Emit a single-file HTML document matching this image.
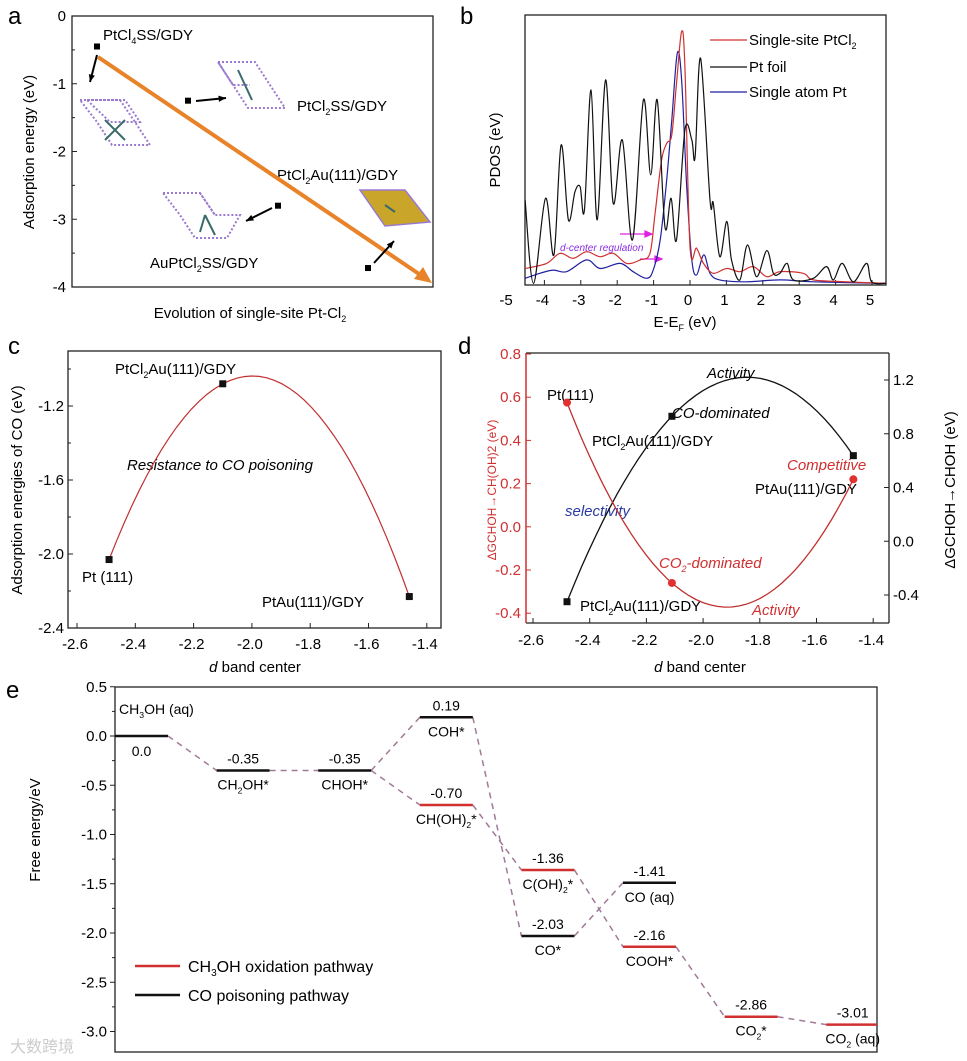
<!DOCTYPE html>
<html><head><meta charset="utf-8"><style>
html,body{margin:0;padding:0;background:#fff}
svg{display:block;font-family:"Liberation Sans",sans-serif}
</style></head><body>
<svg id="fig" width="967" height="1061" viewBox="0 0 967 1061" xmlns="http://www.w3.org/2000/svg">
<rect x="0" y="0" width="967" height="1061" fill="#fff"/>
<!-- Panel labels -->
<g font-size="24" fill="#000">
<text x="8" y="24">a</text>
<text x="460" y="24">b</text>
<text x="8" y="354">c</text>
<text x="458" y="354">d</text>
<text x="6" y="698">e</text>
</g>

<!-- Panel a static -->
<g id="pa">
<rect x="72" y="16" width="361" height="271" fill="none" stroke="#222" stroke-width="1.3"/>
<text transform="translate(34,152) rotate(-90)" text-anchor="middle" font-size="15">Adsorption energy (eV)</text>
<text x="250" y="318" text-anchor="middle" font-size="15">Evolution of single-site Pt-Cl<tspan font-size="9" dy="4">2</tspan></text>
<g font-size="15">
<text x="103" y="40">PtCl<tspan font-size="9" dy="4">4</tspan><tspan dy="-4">SS/GDY</tspan></text>
<text x="297" y="111">PtCl<tspan font-size="9" dy="4">2</tspan><tspan dy="-4">SS/GDY</tspan></text>
<text x="277" y="180">PtCl<tspan font-size="9" dy="4">2</tspan><tspan dy="-4">Au(111)/GDY</tspan></text>
<text x="150" y="268">AuPtCl<tspan font-size="9" dy="4">2</tspan><tspan dy="-4">SS/GDY</tspan></text>
</g>
<g fill="none" stroke="#9a7ad0" stroke-width="2" stroke-dasharray="2 2">
<path d="M80,100 L120,100 L135,122 L150,145 L112,145 L97,122 Z M120,100 L135,122 M112,145 L97,122"/>
<path d="M87,100 L125,100 L140,122 L110,122 Z"/>
<path d="M218,62 L255,62 L270,85 L285,108 L248,108 L233,85 Z M218,62 L233,85 L250,85"/>
<path d="M163,193 L200,193 L215,215 L240,215 L227,238 L195,238 L180,215 Z M200,193 L215,215"/>
</g>
<path d="M360,190 L405,190 L430,222 L385,226 Z" fill="#c9a52a" stroke="#9a7ad0" stroke-width="1.5"/>
<g stroke="#3a6a6a" stroke-width="2">
<path d="M105,120 L125,140 M125,120 L105,140"/>
<path d="M238,70 L252,100"/>
<path d="M205,215 L215,235 M205,215 L200,232"/>
<path d="M385,205 L395,212"/>
</g>
</g>

<!-- Panel b static -->
<g id="pb">
<rect x="525" y="15" width="361" height="270" fill="none" stroke="#222" stroke-width="1.3"/>
<text transform="translate(500,150) rotate(-90)" text-anchor="middle" font-size="15">PDOS (eV)</text>
<text x="685" y="327" text-anchor="middle" font-size="15">E-E<tspan font-size="9" dy="4">F</tspan><tspan dy="-4"> (eV)</tspan></text>
<g font-size="15">
<line x1="710" y1="40" x2="747" y2="40" stroke="#d03030" stroke-width="1.3"/>
<text x="749" y="45">Single-site PtCl<tspan font-size="9" dy="4">2</tspan></text>
<line x1="710" y1="67" x2="747" y2="67" stroke="#111" stroke-width="1.3"/>
<text x="749" y="72">Pt foil</text>
<line x1="710" y1="92" x2="747" y2="92" stroke="#2020a0" stroke-width="1.3"/>
<text x="749" y="97">Single atom Pt</text>
</g>
<text x="560" y="251" font-size="10" font-style="italic" fill="#8a2be2">d-center regulation</text>
<g stroke="#e020e0" stroke-width="1.2" fill="#e020e0">
<line x1="620" y1="234" x2="648" y2="234"/><path d="M652,234 L645,231 L645,237 Z"/>
<line x1="640" y1="259" x2="662" y2="259"/><path d="M662,259 L655,256 L655,262 Z"/>
</g>
</g>

<!-- Panel c static -->
<g id="pc">
<rect x="68" y="351" width="373" height="277" fill="none" stroke="#222" stroke-width="1.3"/>
<text transform="translate(22,490) rotate(-90)" text-anchor="middle" font-size="15">Adsorption energies of CO (eV)</text>
<text x="255" y="672" text-anchor="middle" font-size="15"><tspan font-style="italic">d</tspan> band center</text>
<g font-size="15">
<text x="115" y="374">PtCl<tspan font-size="9" dy="4">2</tspan><tspan dy="-4">Au(111)/GDY</tspan></text>
<text x="82" y="582">Pt (111)</text>
<text x="262" y="607">PtAu(111)/GDY</text>
<text x="127" y="470" font-style="italic">Resistance to CO poisoning</text>
</g>
</g>

<!-- Panel d static -->
<g id="pd">
<line x1="526" y1="353" x2="889" y2="353" stroke="#222" stroke-width="1.3"/>
<line x1="526" y1="623" x2="889" y2="623" stroke="#222" stroke-width="1.3"/>
<line x1="889" y1="353" x2="889" y2="623" stroke="#222" stroke-width="1.3"/>
<line x1="526" y1="353" x2="526" y2="623" stroke="#d03030" stroke-width="1.5"/>
<text transform="translate(496,490) rotate(-90)" text-anchor="middle" font-size="12" fill="#d03030">ΔGCHOH→CH(OH)2 (eV)</text>
<text transform="translate(955,490) rotate(-90)" text-anchor="middle" font-size="15">ΔGCHOH→CHOH (eV)</text>
<text x="700" y="672" text-anchor="middle" font-size="15"><tspan font-style="italic">d</tspan> band center</text>
<g font-size="15">
<text x="707" y="378" font-style="italic">Activity</text>
<text x="547" y="400">Pt(111)</text>
<text x="672" y="418" font-style="italic">CO-dominated</text>
<text x="592" y="446">PtCl<tspan font-size="9" dy="4">2</tspan><tspan dy="-4">Au(111)/GDY</tspan></text>
<text x="787" y="470" font-style="italic" fill="#d03030">Competitive</text>
<text x="755" y="494">PtAu(111)/GDY</text>
<text x="565" y="516" font-style="italic" fill="#2a3aa0">selectivity</text>
<text x="659" y="568" font-style="italic" fill="#d03030">CO<tspan font-size="9" dy="4">2</tspan><tspan dy="-4">-dominated</tspan></text>
<text x="580" y="611">PtCl<tspan font-size="9" dy="4">2</tspan><tspan dy="-4">Au(111)/GDY</tspan></text>
<text x="752" y="615" font-style="italic" fill="#d03030">Activity</text>
</g>
</g>

<!-- Panel e static -->
<g id="pe">
<rect x="115" y="687" width="762" height="365" fill="none" stroke="#222" stroke-width="1.3"/>
<text transform="translate(40,830) rotate(-90)" text-anchor="middle" font-size="15">Free energy/eV</text>
<g>
<line x1="135" y1="966" x2="180" y2="966" stroke="#d03030" stroke-width="2.5"/>
<text x="188" y="972" font-size="16">CH<tspan font-size="10" dy="4">3</tspan><tspan dy="-4">OH oxidation pathway</tspan></text>
<line x1="135" y1="995" x2="180" y2="995" stroke="#111" stroke-width="2.5"/>
<text x="188" y="1001" font-size="16">CO poisoning pathway</text>
</g>
<text x="10" y="1052" font-size="16" fill="#ccc">大数跨境</text>
</g>
</svg>
<script>
// ---------- Data ----------
// Panel a
const aPointsY = [-0.45, -1.25, -2.8, -3.72];
const aPointsX = [97, 188, 278, 368];
const aTicks = [0, -1, -2, -3, -4];
// Panel b
const bTicks = [-5,-4,-3,-2,-1,0,1,2,3,4,5];
const foilE = [-4.53,-4.30,-3.97,-3.74,-3.54,-3.34,-3.16,-3.02,-2.90,-2.72,-2.55,-2.32,-2.11,-1.86,-1.58,-1.28,-1.08,-0.90,-0.69,-0.52,-0.37,-0.14,0.05,0.14,0.29,0.55,0.64,0.82,1.01,1.14,1.37,1.58,1.83,2.11,2.29,2.47,2.67,2.84,3.39,3.75,3.94,4.18,4.49,4.85,4.99,5.38];
const foilV = [3.19,0.06,3.25,1.13,5.25,2.44,3.5,3.69,2.81,7.31,2.44,7.69,3.06,5.44,1.69,6.94,4.13,6.94,2.19,3.25,1.69,5.81,5.44,4.81,8.5,3.19,3.06,1.06,2.38,0.94,0.19,1.5,0.31,1.29,0.44,0.44,0.81,0.19,0.25,0.69,0.19,0.81,0.12,0.81,0.12,0.06];
const ptcl2E = [-4.53,-3.94,-3.57,-3.21,-2.84,-2.47,-2.11,-1.74,-1.37,-1.10,-0.96,-0.78,-0.64,-0.50,-0.37,-0.23,-0.14,0,0.18,0.37,0.64,1.01,1.37,1.74,2.11,2.47,3.11,3.39,4.3,5.38];
const ptcl2V = [0.62,0.81,1.19,1,1.25,1.06,1.19,0.81,0.94,1.19,2.69,4.69,5.31,5.63,7.56,9.5,8.19,1.44,1.38,0.81,0.44,0.62,0.5,0.69,0.31,0.5,0.44,0.19,0.12,0.06];
const atomE = [-4.53,-4.12,-3.76,-3.39,-2.84,-2.47,-1.92,-1.56,-1.19,-1.01,-0.82,-0.64,-0.50,-0.35,-0.23,-0.09,0.05,0.18,0.38,0.55,0.82,1.56,2.47,3.39,5.38];
const atomV = [0.25,0.44,0.56,0.5,0.94,0.62,0.81,0.5,0.25,0.56,1.69,3.94,6.19,8.69,7.69,3.69,0.94,0.38,1.13,0.44,0.19,0.12,0.19,0.12,0.06];
// Panel c
const cTicksX = [-2.6,-2.4,-2.2,-2.0,-1.8,-1.6,-1.4];
const cTickLabelsX = ["-2.6","-2.4","-2.2","-2.0","-1.8","-1.6","-1.4"];
const cTicksY = [-1.2,-1.6,-2.0,-2.4];
const cTickLabelsY = ["-1.2","-1.6","-2.0","-2.4"];
const cD = [-2.49,-2.10,-1.46];
const cE = [-2.03,-1.08,-2.23];
// Panel d
const dTicksX = [-2.6,-2.4,-2.2,-2.0,-1.8,-1.6,-1.4];
const dTickLabelsX = ["-2.6","-2.4","-2.2","-2.0","-1.8","-1.6","-1.4"];
const dTicksL = [0.8,0.6,0.4,0.2,0.0,-0.2,-0.4];
const dTickLabelsL = ["0.8","0.6","0.4","0.2","0.0","-0.2","-0.4"];
const dTicksR = [1.2,0.8,0.4,0.0,-0.4];
const dTickLabelsR = ["1.2","0.8","0.4","0.0","-0.4"];
const dD = [-2.48,-2.11,-1.47];
const dBlack = [-0.45,0.93,0.637];
const dRed = [0.575,-0.26,0.22];
// Panel e
const eTicks = [0.5,0.0,-0.5,-1.0,-1.5,-2.0,-2.5,-3.0];
const eTickLabels = ["0.5","0.0","-0.5","-1.0","-1.5","-2.0","-2.5","-3.0"];
const stepCol = [0,1,2,3,3,4,4,5,5,6,7];
const stepVal = [0.0,-0.35,-0.35,0.19,-0.70,-1.36,-2.03,-1.49,-2.14,-2.85,-2.93];
const stepValLabel = ["0.0","-0.35","-0.35","0.19","-0.70","-1.36","-2.03","-1.41","-2.16","-2.86","-3.01"];
const stepName = ["CH_3OH (aq)","CH_2OH*","CHOH*","COH*","CH(OH)_2*","C(OH)_2*","CO*","CO (aq)","COOH*","CO_2*","CO_2 (aq)"];
const stepPath = ["co","co","co","co","ox","ox","co","co","ox","ox","ox"];
const stepLinks = [[0,1],[1,2],[2,3],[2,4],[3,6],[4,5],[5,8],[6,7],[8,9],[9,10]];

// ---------- helpers ----------
const NS = "http://www.w3.org/2000/svg";
const svg = document.getElementById('fig');
function mk(tag, attrs, name, parent) {
  const el = document.createElementNS(NS, tag);
  for (const k in attrs) el.setAttribute(k, attrs[k]);
  
  
  (parent || svg).appendChild(el);
  return el;
}
function txt(x, y, s, attrs, name) {
  const a = Object.assign({x: x, y: y, 'font-size': 15}, attrs || {});
  const t = mk('text', a, name);
  t.textContent = s;
  return t;
}
function subText(x, y, s, fs, name, anchor) {
  const t = mk('text', {x: x, y: y, 'font-size': fs, 'text-anchor': anchor || 'middle'}, name);
  const parts = s.split('_');
  parts.forEach((p, i) => {
    if (i === 0) { const sp = mk('tspan', {}, name + '-part', t); sp.textContent = p; return; }
    const sub = mk('tspan', {'font-size': fs * 0.62, dy: 4}, name + '-sub', t); sub.textContent = p[0];
    const rest = mk('tspan', {dy: -4}, name + '-part', t); rest.textContent = p.slice(1);
  });
  return t;
}
function smoothPath(pts) {
  let d = 'M' + pts[0][0].toFixed(1) + ',' + pts[0][1].toFixed(1);
  for (let i = 0; i < pts.length - 1; i++) {
    const p0 = pts[Math.max(0, i - 1)], p1 = pts[i], p2 = pts[i + 1], p3 = pts[Math.min(pts.length - 1, i + 2)];
    const c1x = p1[0] + (p2[0] - p0[0]) / 6, c1y = p1[1] + (p2[1] - p0[1]) / 6;
    const c2x = p2[0] - (p3[0] - p1[0]) / 6, c2y = p2[1] - (p3[1] - p1[1]) / 6;
    d += ' C' + c1x.toFixed(1) + ',' + c1y.toFixed(1) + ' ' + c2x.toFixed(1) + ',' + c2y.toFixed(1) + ' ' + p2[0].toFixed(1) + ',' + p2[1].toFixed(1);
  }
  return d;
}
function quadThrough(xs, ys) {
  const s12 = (ys[1] - ys[0]) / (xs[1] - xs[0]);
  const s23 = (ys[2] - ys[1]) / (xs[2] - xs[1]);
  const a = (s23 - s12) / (xs[2] - xs[0]);
  return x => a * (x - xs[0]) * (x - xs[1]) + s12 * (x - xs[0]) + ys[0];
}

// ---------- Panel a ----------
const ya = v => 16 + (-v) * 67.75;
aTicks.forEach(v => {
  mk('line', {x1: 72, y1: ya(v), x2: 77, y2: ya(v), stroke: '#222'}, 'a-y-tick');
  txt(66, ya(v) + 5, String(v), {'text-anchor': 'end'}, 'a-y-tick-label');
  if (v > -4) mk('line', {x1: 72, y1: ya(v - 0.5), x2: 75, y2: ya(v - 0.5), stroke: '#222'}, 'a-y-minor-tick');
});
mk('line', {x1: 98, y1: 57, x2: 422, y2: 276, stroke: '#e8832a', 'stroke-width': 4}, 'a-trend-arrow');
mk('path', {d: 'M432,283 L414,279 L423,267 Z', fill: '#e8832a'}, 'a-trend-arrowhead');
aPointsY.forEach((v, i) => {
  mk('rect', {x: aPointsX[i] - 3, y: ya(v) - 3, width: 6, height: 6, fill: '#000'}, 'a-point');
});
const aArrows = [[0, 97, 55, 90, 82], [1, 196, 101, 226, 98], [2, 272, 208, 246, 221], [3, 374, 263, 394, 241]];
aArrows.forEach(r => {
  const [_, x1, y1, x2, y2] = r;
  mk('line', {x1: x1, y1: y1, x2: x2, y2: y2, stroke: '#000', 'stroke-width': 2}, 'a-pointer-arrow');
  const ang = Math.atan2(y2 - y1, x2 - x1), L = 8;
  const p1 = [x2 - L * Math.cos(ang - 0.4), y2 - L * Math.sin(ang - 0.4)];
  const p2 = [x2 - L * Math.cos(ang + 0.4), y2 - L * Math.sin(ang + 0.4)];
  mk('path', {d: `M${x2},${y2} L${p1[0]},${p1[1]} L${p2[0]},${p2[1]} Z`, fill: '#000'}, 'a-pointer-arrowhead');
});

// ---------- Panel b ----------
const xb = e => 690 + e * 36.4;
const yb = v => 285 - v * 26.67;
bTicks.forEach(t => {
  if (xb(t) >= 525) mk('line', {x1: xb(t), y1: 285, x2: xb(t), y2: 280, stroke: '#222'}, 'b-x-tick');
  txt(xb(t) - 2, 305, String(t), {'text-anchor': 'middle'}, 'b-x-tick-label');
});
function drawB(E, V, color, name) {
  mk('path', {d: smoothPath(E.map((e, i) => [xb(e), yb(V[i])])), fill: 'none', stroke: color, 'stroke-width': 1.2}, name);
}
drawB(atomE, atomV, '#2020a0', 'b-curve-single-atom');
drawB(ptcl2E, ptcl2V, '#d03030', 'b-curve-single-site');
drawB(foilE, foilV, '#111', 'b-curve-pt-foil');

// ---------- Panel c ----------
const xc = d => 77 + (d + 2.6) / 0.2 * 58.3;
const yc = v => 406 + (-1.2 - v) / 0.4 * 74;
cTicksX.forEach((t, i) => {
  mk('line', {x1: xc(t), y1: 628, x2: xc(t), y2: 623, stroke: '#222'}, 'c-x-tick');
  txt(xc(t) - 2, 649, cTickLabelsX[i], {'text-anchor': 'middle'}, 'c-x-tick-label');
});
cTicksY.forEach((t, i) => {
  mk('line', {x1: 68, y1: yc(t), x2: 73, y2: yc(t), stroke: '#222'}, 'c-y-tick');
  mk('line', {x1: 68, y1: yc(t + 0.2), x2: 71, y2: yc(t + 0.2), stroke: '#222'}, 'c-y-minor-tick');
  txt(64, yc(t) + 5, cTickLabelsY[i], {'text-anchor': 'end'}, 'c-y-tick-label');
});
const fc = quadThrough(cD, cE);
const cPts = [];
for (let k = 0; k <= 40; k++) { const d = cD[0] + (cD[2] - cD[0]) * k / 40; cPts.push(xc(d).toFixed(1) + ',' + yc(fc(d)).toFixed(1)); }
mk('polyline', {points: cPts.join(' '), fill: 'none', stroke: '#c03030', 'stroke-width': 1.2}, 'c-fit-curve');
cD.forEach((d, i) => mk('rect', {x: xc(d) - 3.5, y: yc(cE[i]) - 3.5, width: 7, height: 7, fill: '#111'}, 'c-point'));

// ---------- Panel d ----------
const xd = d => 533 + (d + 2.6) / 0.2 * 56.7;
const ydl = v => 354 + (0.8 - v) / 0.2 * 43.2;
const ydr = v => 380 + (1.2 - v) / 0.4 * 53.75;
dTicksX.forEach((t, i) => {
  mk('line', {x1: xd(t), y1: 623, x2: xd(t), y2: 618, stroke: '#222'}, 'd-x-tick');
  txt(xd(t) - 2, 645, dTickLabelsX[i], {'text-anchor': 'middle'}, 'd-x-tick-label');
});
dTicksL.forEach((t, i) => {
  mk('line', {x1: 526, y1: ydl(t), x2: 531, y2: ydl(t), stroke: '#d03030'}, 'd-left-tick');
  txt(521, ydl(t) + 5, dTickLabelsL[i], {'text-anchor': 'end', fill: '#d03030'}, 'd-left-tick-label');
});
dTicksR.forEach((t, i) => {
  mk('line', {x1: 889, y1: ydr(t), x2: 884, y2: ydr(t), stroke: '#222'}, 'd-right-tick');
  txt(893, ydr(t) + 5, dTickLabelsR[i], {'text-anchor': 'start'}, 'd-right-tick-label');
});
const fb = quadThrough(dD, dBlack), fr = quadThrough(dD, dRed);
const dbPts = [], drPts = [];
for (let k = 0; k <= 40; k++) {
  const d = dD[0] + (dD[2] - dD[0]) * k / 40;
  dbPts.push(xd(d).toFixed(1) + ',' + ydr(fb(d)).toFixed(1));
  drPts.push(xd(d).toFixed(1) + ',' + ydl(fr(d)).toFixed(1));
}
mk('polyline', {points: dbPts.join(' '), fill: 'none', stroke: '#111', 'stroke-width': 1.3}, 'd-black-curve');
mk('polyline', {points: drPts.join(' '), fill: 'none', stroke: '#c03030', 'stroke-width': 1.3}, 'd-red-curve');
dD.forEach((d, i) => {
  mk('rect', {x: xd(d) - 3.5, y: ydr(dBlack[i]) - 3.5, width: 7, height: 7, fill: '#111'}, 'd-black-point');
  mk('circle', {cx: xd(d), cy: ydl(dRed[i]), r: 4, fill: '#e03030'}, 'd-red-point');
});

// ---------- Panel e ----------
const ye = v => 736 - v * 98.5;
const xs = c => 115 + c * 101.6;
const W = 53;
eTicks.forEach((t, i) => {
  mk('line', {x1: 110, y1: ye(t), x2: 115, y2: ye(t), stroke: '#222'}, 'e-y-tick');
  if (t > -3) mk('line', {x1: 112, y1: ye(t - 0.25), x2: 115, y2: ye(t - 0.25), stroke: '#222'}, 'e-y-minor-tick');
  txt(107, ye(t) + 5, eTickLabels[i], {'text-anchor': 'end'}, 'e-y-tick-label');
});
stepLinks.forEach(l => {
  const a = l[0], b = l[1];
  mk('line', {x1: xs(stepCol[a]) + W, y1: ye(stepVal[a]), x2: xs(stepCol[b]), y2: ye(stepVal[b]), stroke: '#a07a98', 'stroke-width': 1.5, 'stroke-dasharray': '6 5'}, 'e-connector');
});
stepVal.forEach((v, i) => {
  const x0 = xs(stepCol[i]);
  const w = stepCol[i] === 7 ? 877 - x0 : W;
  mk('line', {x1: x0, y1: ye(v), x2: x0 + w, y2: ye(v), stroke: stepPath[i] === 'ox' ? '#d03030' : '#111', 'stroke-width': 2.5}, 'e-level');
  const cx = x0 + W / 2;
  if (i === 0) {
    subText(x0 + 4, ye(v) - 22, stepName[i], 14, 'e-state-name', 'start');
    txt(cx, ye(v) + 20, stepValLabel[i], {'text-anchor': 'middle', 'font-size': 14}, 'e-value-label');
  } else {
    txt(cx, ye(v) - 7, stepValLabel[i], {'text-anchor': 'middle', 'font-size': 14}, 'e-value-label');
    subText(cx, ye(v) + 19, stepName[i], 14, 'e-state-name', 'middle');
  }
});
</script>
</body></html>
